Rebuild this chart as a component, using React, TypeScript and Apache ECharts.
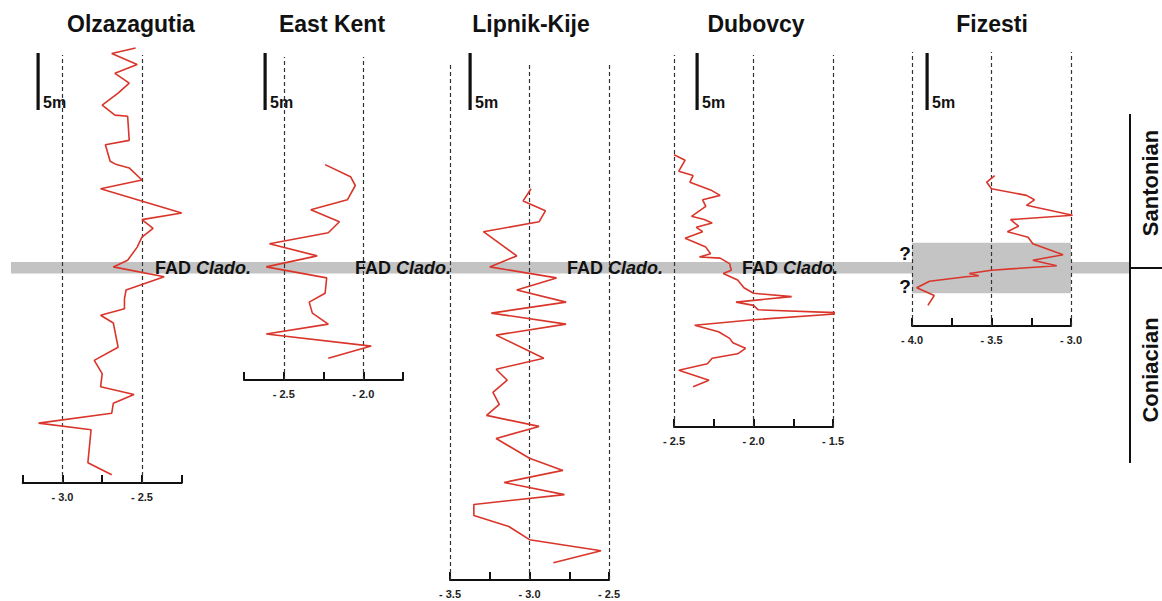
import React, { useEffect, useRef } from "react";
import * as echarts from "echarts";

// ---------- DATA ----------
const sectionNames = ["Olzazagutia", "East Kent", "Lipnik-Kije", "Dubovcy", "Fizesti"];
const axisMins = [-3.25, -2.75, -3.5, -2.5, -4.0];
const axisMaxs = [-2.25, -1.75, -2.5, -1.5, -3.0];
const guideValues = [
  [-3.0, -2.5],
  [-2.5, -2.0],
  [-3.5, -3.0, -2.5],
  [-2.5, -2.0, -1.5],
  [-4.0, -3.5, -3.0],
];
const stageLabels = ["Santonian", "Coniacian"];
const fadGenus = "Clado.";
const scaleLabel = "5m";

// heights in metres relative to the FAD level (positive = up)
const olzHeights = [20.0, 19.5, 18.5, 17.7, 16.8, 15.9, 14.8, 13.9, 13.8, 11.6, 11.2, 9.7, 9.4, 9.1, 8.0, 7.2, 5.0, 4.4, 3.6, 2.8, 1.9, 0.7, 0.1, -0.8, -2.0, -2.8, -3.7, -4.3, -5.0, -7.2, -8.4, -9.6, -10.8, -11.5, -12.3, -13.2, -14.1, -14.7, -17.7, -18.8];
const olzValues = [-2.54, -2.69, -2.53, -2.67, -2.58, -2.65, -2.75, -2.67, -2.59, -2.58, -2.73, -2.70, -2.66, -2.58, -2.50, -2.76, -2.25, -2.50, -2.43, -2.50, -2.53, -2.59, -2.68, -2.36, -2.60, -2.61, -2.61, -2.76, -2.68, -2.65, -2.80, -2.75, -2.76, -2.55, -2.68, -2.69, -3.15, -2.82, -2.84, -2.69];

const ekHeights = [9.4, 8.3, 7.5, 6.2, 5.3, 4.2, 3.2, 2.2, 1.1, 0.1, -0.9, -2.3, -3.1, -4.1, -5.1, -6.0, -7.1, -8.2];
const ekValues = [-2.24, -2.08, -2.05, -2.10, -2.33, -2.15, -2.22, -2.59, -2.29, -2.61, -2.23, -2.24, -2.34, -2.32, -2.22, -2.61, -1.95, -2.22];

const lkHeights = [7.2, 6.1, 5.2, 4.2, 3.3, 1.1, 0.1, -0.9, -2.0, -3.1, -4.1, -5.1, -6.1, -8.2, -9.2, -10.2, -11.3, -12.4, -13.4, -14.4, -15.5, -17.3, -18.4, -19.5, -20.6, -21.5, -22.5, -23.5, -24.7, -25.7, -26.8];
const lkValues = [-2.99, -3.04, -2.90, -2.94, -3.29, -3.08, -3.25, -2.83, -3.08, -2.77, -3.24, -2.77, -3.21, -2.91, -3.21, -3.14, -3.23, -3.19, -3.27, -2.94, -3.21, -3.0, -2.79, -3.16, -2.78, -3.35, -3.35, -3.13, -3.0, -2.55, -2.85];

const dbHeights = [10.3, 9.8, 8.8, 8.4, 7.8, 7.1, 6.6, 6.2, 5.6, 4.7, 4.4, 4.1, 3.7, 3.3, 2.7, 1.9, 1.3, 1.0, 0.9, 0.4, -0.2, -0.5, -1.1, -1.8, -2.3, -2.6, -3.1, -3.4, -3.8, -4.1, -4.7, -5.2, -5.8, -6.4, -6.8, -7.3, -7.8, -8.2, -8.7, -9.3, -10.2, -10.8];
const dbValues = [-2.50, -2.43, -2.47, -2.38, -2.40, -2.27, -2.21, -2.32, -2.30, -2.39, -2.31, -2.26, -2.36, -2.32, -2.43, -2.30, -2.27, -2.34, -2.21, -2.15, -2.14, -2.19, -2.10, -2.06, -2.00, -1.76, -2.11, -2.00, -1.97, -1.40, -2.00, -2.37, -2.22, -2.15, -2.13, -2.05, -2.10, -2.26, -2.29, -2.47, -2.28, -2.38];

const fzHeights = [8.4, 7.8, 7.2, 6.6, 6.2, 5.7, 4.8, 4.4, 3.8, 3.3, 2.8, 2.2, 1.2, 0.7, 0.2, -0.2, -0.5, -0.7, -0.8, -1.2, -1.8, -2.5, -3.4];
const fzValues = [-3.48, -3.53, -3.50, -3.28, -3.23, -3.28, -2.99, -3.38, -3.33, -3.40, -3.27, -3.24, -3.05, -3.24, -3.09, -3.50, -3.64, -3.58, -3.66, -3.89, -3.97, -3.86, -3.90];

// uncertain FAD interval at Fizesti (m relative to FAD)
const fzUncertainTop = 2.3;
const fzUncertainBottom = -2.3;

const sectionHeights = [olzHeights, ekHeights, lkHeights, dbHeights, fzHeights];
const sectionValues = [olzValues, ekValues, lkValues, dbValues, fzValues];

// ---------- LAYOUT ----------
const PX_PER_M = 11;
const FAD_Y = 268;
const FONT = "'Liberation Sans', Arial, Helvetica, sans-serif";
const layout = [
  { left: 22.7, width: 159, top: 55, base: 483, title: 131, bar: 38, fad: 155 },
  { left: 244, width: 159, top: 57, base: 380, title: 332, bar: 265, fad: 355 },
  { left: 450, width: 159, top: 63, base: 580, title: 531, bar: 470, fad: 567 },
  { left: 674, width: 159, top: 55, base: 427, title: 756, bar: 697, fad: 742 },
  { left: 912, width: 159, top: 52, base: 326, title: 992, bar: 927, fad: -1 },
];

function labelFmt(v: number) {
  const d = v * 2;
  if (Math.abs(Math.round(d) - d) < 1e-6) return "- " + Math.abs(v).toFixed(1);
  return "";
}

export default function App() {
  const ref = useRef<HTMLDivElement>(null);
  useEffect(() => {
    if (!ref.current) return;
    const chart = echarts.init(ref.current, undefined, { renderer: "svg" });

    const grids = layout.map((l) => ({
      left: l.left,
      top: l.top,
      width: l.width,
      height: l.base - l.top,
      containLabel: false,
    }));
    const xAxes = layout.map((l, i) => ({
      type: "value",
      gridIndex: i,
      min: axisMins[i],
      max: axisMaxs[i],
      interval: 0.25,
      position: "bottom",
      axisLine: { show: true, onZero: false, lineStyle: { color: "#111", width: 2 } },
      axisTick: { show: true, inside: true, length: 8, lineStyle: { color: "#111", width: 2 } },
      splitLine: { show: false },
      axisLabel: {
        formatter: labelFmt,
        color: "#222",
        fontSize: 11,
        fontWeight: "bold",
        fontFamily: FONT,
        margin: 8,
        showMinLabel: true,
        showMaxLabel: true,
      },
    }));
    const yAxes = layout.map((l, i) => ({
      type: "value",
      gridIndex: i,
      min: (FAD_Y - l.base) / PX_PER_M,
      max: (FAD_Y - l.top) / PX_PER_M,
      show: false,
      splitLine: { show: false },
    }));
    const series = layout.map((l, i) => {
      const s: any = {
        type: "line",
        name: sectionNames[i],
        xAxisIndex: i,
        yAxisIndex: i,
        data: sectionValues[i].map((v, k) => [v, sectionHeights[i][k]]),
        symbol: "none",
        clip: false,
        z: 10,
        lineStyle: { color: "#d9352b", width: 1.6 },
        markLine: {
          silent: true,
          symbol: ["none", "none"],
          label: { show: false },
          lineStyle: { type: [4, 3], color: "#333", width: 1.2 },
          data: guideValues[i].map((g) => ({ xAxis: g })),
        },
      };
      if (i === 4) {
        s.markArea = {
          silent: true,
          itemStyle: { color: "#c4c4c4" },
          data: [[{ xAxis: axisMins[i], yAxis: fzUncertainTop }, { xAxis: axisMaxs[i], yAxis: fzUncertainBottom }]],
        };
      }
      return s;
    });

    const graphics: any[] = [];
    // FAD band
    graphics.push({
      type: "rect",
      z: 1,
      shape: { x: 11, y: FAD_Y - 6, width: 1119, height: 11.5 },
      style: { fill: "#c3c3c3" },
    });
    layout.forEach((l, i) => {
      graphics.push({
        type: "text",
        z: 20,
        x: l.title,
        y: 24,
        style: {
          text: sectionNames[i],
          fill: "#111",
          font: `bold 23px ${FONT}`,
          textAlign: "center",
          textVerticalAlign: "middle",
        },
      });
      graphics.push({
        type: "rect",
        z: 20,
        shape: { x: l.bar - 1.5, y: 53, width: 3.2, height: 57 },
        style: { fill: "#111" },
      });
      graphics.push({
        type: "text",
        z: 20,
        x: l.bar + 5,
        y: 102,
        style: {
          text: scaleLabel,
          fill: "#111",
          font: `bold 16px ${FONT}`,
          textAlign: "left",
          textVerticalAlign: "middle",
        },
      });
      if (l.fad > 0) {
        graphics.push({
          type: "text",
          z: 20,
          x: l.fad,
          y: FAD_Y,
          style: {
            text: "{a|FAD }{b|" + fadGenus + "}",
            textAlign: "left",
            textVerticalAlign: "middle",
            rich: {
              a: { font: `bold 18px ${FONT}`, fill: "#111", fontSize: 18, fontWeight: "bold", fontFamily: FONT },
              b: { font: `italic bold 18px ${FONT}`, fill: "#111", fontSize: 18, fontWeight: "bold", fontStyle: "italic", fontFamily: FONT },
            },
          },
        });
      }
    });
    ["?", "?"].forEach((q, k) => {
      graphics.push({
        type: "text",
        z: 20,
        x: 905,
        y: k === 0 ? 253 : 286,
        style: { text: q, fill: "#111", font: `bold 19px ${FONT}`, textAlign: "center", textVerticalAlign: "middle" },
      });
    });
    // stage column
    graphics.push({
      type: "line",
      z: 20,
      shape: { x1: 1130, y1: 114, x2: 1130, y2: 463 },
      style: { stroke: "#111", lineWidth: 2 },
    });
    graphics.push({
      type: "line",
      z: 20,
      shape: { x1: 1130, y1: FAD_Y, x2: 1162, y2: FAD_Y },
      style: { stroke: "#111", lineWidth: 2 },
    });
    stageLabels.forEach((s, k) => {
      graphics.push({
        type: "text",
        z: 20,
        x: 1150,
        y: k === 0 ? 183 : 370,
        rotation: Math.PI / 2,
        style: { text: s, fill: "#111", font: `bold 22px ${FONT}`, textAlign: "center", textVerticalAlign: "middle" },
      });
    });

    chart.setOption({
      animation: false,
      backgroundColor: "#ffffff",
      grid: grids,
      xAxis: xAxes,
      yAxis: yAxes,
      series,
      graphic: graphics,
    });
    return () => chart.dispose();
  }, []);
  return (
    <div
      ref={ref}
      style={{ position: "absolute", left: 0, top: 0, width: 1162, height: 601 }}
    />
  );
}
